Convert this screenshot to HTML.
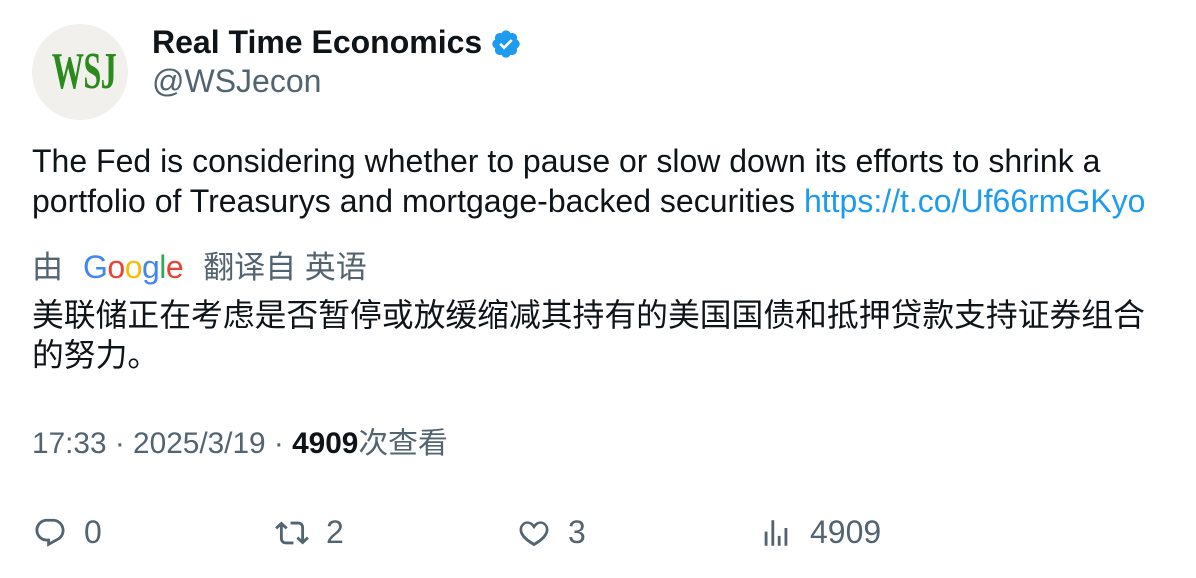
<!DOCTYPE html>
<html><head><meta charset="utf-8">
<style>
body{margin:0;width:1196px;height:578px;background:#fff;position:relative;overflow:hidden;font-family:"Liberation Sans","Noto Sans CJK SC",sans-serif;color:#0f1419}
.a{position:absolute;white-space:nowrap}
.gray{color:#536471}
</style></head><body>
<div class="a" style="left:32px;top:24px;width:96px;height:96px;border-radius:50%;background:#f1f0ec;text-align:center;line-height:96px;font-family:'Liberation Serif',serif;font-weight:bold;font-size:52px;color:#2a8a1c;letter-spacing:-1px"><span style="display:inline-block;transform:scaleX(0.62)">WSJ</span></div>
<div class="a" style="left:152px;top:22px;font-size:32px;font-weight:bold;line-height:40px">Real Time Economics</div>
<svg class="a" style="left:490px;top:28px" width="32" height="32" viewBox="0 0 24 24"><path fill="#1d9bf0" d="M22.25 12c0-1.430-.88-2.67-2.19-3.34.46-1.39.2-2.9-.81-3.91s-2.52-1.27-3.910-.81c-.66-1.31-1.91-2.19-3.34-2.19s-2.67.88-3.33 2.19c-1.4-.46-2.91-.2-3.92.81s-1.26 2.52-.8 3.91c-1.31.67-2.2 1.91-2.2 3.34s.89 2.67 2.2 3.34c-.46 1.39-.21 2.9.8 3.91s2.52 1.26 3.91.81c.67 1.31 1.91 2.19 3.34 2.19s2.68-.88 3.34-2.19c1.39.45 2.9.2 3.91-.81s1.27-2.52.81-3.91c1.31-.67 2.19-1.91 2.19-3.34z"/><path fill="#fff" d="M10.54 16.2l-3.6-3.6 1.4-1.4 2.2 2.2 5.1-5.1 1.4 1.4z"/></svg>
<div class="a gray" style="left:152px;top:61px;font-size:32px;line-height:40px">@WSJecon</div>
<div class="a" style="left:32px;top:141px;font-size:32px;line-height:40px">The Fed is considering whether to pause or slow down its efforts to shrink a</div>
<div class="a" style="left:32px;top:181px;font-size:32px;line-height:40px">portfolio of Treasurys and mortgage-backed securities <span style="color:#1d9bf0">https://t.co/Uf66rmGKyo</span></div>
<div class="a gray" style="left:32px;top:246px;font-size:31px;line-height:42px">由<span style="font-size:32px;letter-spacing:-0.5px;margin:0 20px 0 20px"><span style="color:#4285f4">G</span><span style="color:#ea4335">o</span><span style="color:#fbbc05">o</span><span style="color:#4285f4">g</span><span style="color:#34a853">l</span><span style="color:#ea4335">e</span></span>翻译自 英语</div>
<div class="a" style="left:32px;top:294px;font-size:31.8px;line-height:42px">美联储正在考虑是否暂停或放缓缩减其持有的美国国债和抵押贷款支持证券组合</div>
<div class="a" style="left:32px;top:334px;font-size:31.8px;line-height:42px">的努力。</div>
<div class="a gray" style="left:32px;top:424px;font-size:29.8px;line-height:40px">17:33 · 2025/3/19 · <b style="color:#0f1419">4909</b>次查看</div>
<svg class="a" style="left:33px;top:516px" width="34" height="34" viewBox="0 0 24 24"><path fill="#536471" d="M1.75 10c0-4.42 3.58-8 8-8h4.37c4.5 0 8.13 3.64 8.13 8.13 0 2.96-1.6 5.68-4.19 7.11l-8.060 4.46v-3.69h-.07c-4.49.1-8.18-3.5-8.18-8.01zm8-6c-3.32 0-6 2.69-6 6 0 3.37 2.77 6.08 6.13 6.01l.35-.01h1.77v2.3l5.09-2.81c1.95-1.08 3.16-3.13 3.16-5.36 0-3.39-2.74-6.13-6.13-6.13H9.75z"/></svg>
<div class="a gray" style="left:84px;top:512px;font-size:32px;line-height:40px">0</div>
<svg class="a" style="left:275px;top:516px" width="34" height="34" viewBox="0 0 24 24"><path fill="#536471" d="M4.5 3.88l4.43 4.14-1.36 1.46L5.5 7.55V16c0 1.1.9 2 2 2H13v2H7.5c-2.21 0-4-1.79-4-4V7.55L1.43 9.48.07 8.02 4.5 3.88zM16.5 6H11V4h5.5c2.21 0 4 1.79 4 4v8.45l2.07-1.930 1.36 1.46-4.430 4.14-4.43-4.14 1.36-1.46 2.07 1.93V8c0-1.1-.9-2-2-2z"/></svg>
<div class="a gray" style="left:326px;top:512px;font-size:32px;line-height:40px">2</div>
<svg class="a" style="left:517px;top:516px" width="34" height="34" viewBox="0 0 24 24"><path fill="#536471" d="M16.7 5.5c-1.11-.03-2.3.49-3.24 1.77l-1.46 2-1.46-2c-.94-1.28-2.13-1.8-3.24-1.77-1.1.03-2.16.58-2.84 1.49-.66.89-1.01 2.12-.66 3.6.36 1.49 1.44 3.29 3.76 5.19 1.22 1 2.65 2.03 4.44 3.09 1.79-1.06 3.22-2.090 4.44-3.09 2.32-1.9 3.4-3.7 3.76-5.19.35-1.48 0-2.71-.66-3.6-.68-.91-1.74-1.46-2.84-1.49zM12 21.34l-.51-.3c-2.09-1.2-3.71-2.37-5.05-3.46-2.56-2.1-3.96-4.25-4.44-6.28-.48-2.04-.04-3.85.99-5.25C4.02 4.6 5.56 3.81 7.2 3.76c1.76-.05 3.49.71 4.8 2.23 1.31-1.52 3.04-2.28 4.8-2.23 1.64.05 3.18.84 4.2 2.29 1.03 1.4 1.47 3.21.99 5.25-.48 2.03-1.88 4.18-4.44 6.28-1.34 1.09-2.96 2.26-5.05 3.46l-.5.3z"/></svg>
<div class="a gray" style="left:568px;top:512px;font-size:32px;line-height:40px">3</div>
<svg class="a" style="left:759px;top:516px" width="34" height="34" viewBox="0 0 24 24"><path fill="#536471" d="M8.75 21V3h2v18h-2zM18 21V8.5h2V21h-2zM4 21l.004-10h2L6 21H4zm9.248 0v-7h2v7h-2z"/></svg>
<div class="a gray" style="left:810px;top:512px;font-size:32px;line-height:40px">4909</div>
</body></html>
